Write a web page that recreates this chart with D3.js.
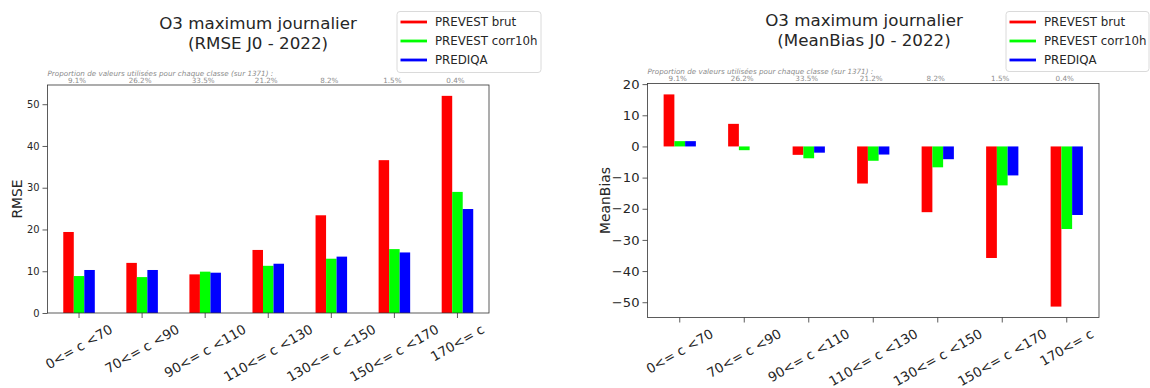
<!DOCTYPE html>
<html>
<head>
<meta charset="utf-8">
<script src="https://cdn.jsdelivr.net/npm/d3@7/dist/d3.min.js"></script>
<style>
  html, body { margin: 0; padding: 0; background: #fff; }
  svg { display: block; font-family: "DejaVu Sans", sans-serif; }
</style>
</head>
<body>
<svg id="chart" width="1150" height="388"></svg>
<script>
// Concentration classes (µg/m³) and share of observations in each class
const categories = ["0<= c <70", "70<= c <90", "90<= c <110", "110<= c <130", "130<= c <150", "150<= c <170", "170<= c"];
const proportions = ["9.1%", "26.2%", "33.5%", "21.2%", "8.2%", "1.5%", "0.4%"];
const seriesNames = ["PREVEST brut", "PREVEST corr10h", "PREDIQA"];
const seriesColors = ["#ff0000", "#00ff00", "#0000ff"];

// RMSE per class
const rmseBrut    = [19.4, 12.0, 9.25, 15.1, 23.4, 36.6, 52.0];
const rmseCorr    = [8.85, 8.6, 9.9, 11.3, 13.0, 15.3, 29.0];
const rmsePrediqa = [10.3, 10.3, 9.65, 11.8, 13.5, 14.5, 24.9];

// Mean bias per class
const biasBrut    = [16.7, 7.25, -2.7, -11.9, -21.1, -35.8, -51.4];
const biasCorr    = [1.7, -1.2, -3.8, -4.6, -6.7, -12.5, -26.5];
const biasPrediqa = [1.7, 0.0, -2.0, -2.6, -4.1, -9.3, -22.0];

const rmseTicks = [0, 10, 20, 30, 40, 50];
const biasTicks = [-50, -40, -30, -20, -10, 0, 10, 20];

const svg = d3.select("#chart");
const textColor = "#262626";

function drawPanel(cfg) {
  const { left, right, top, bottom, yDomain, ticks, series, yLabel, yLabelX, metric,
          yTickSize, titleX, titleY, legend } = cfg;
  const g = svg.append("g");

  const x = d3.scaleBand().domain(categories).range([left, right])
    .paddingInner(0.5).paddingOuter(0.25);
  const xs = d3.scaleBand().domain(d3.range(series.length)).range([0, x.bandwidth()]);
  const y = d3.scaleLinear().domain(yDomain).range([bottom, top]);

  // bars
  series.forEach((vals, s) => {
    g.append("g").selectAll("rect").data(vals).join("rect")
      .attr("x", (d, i) => x(categories[i]) + xs(s))
      .attr("width", xs.bandwidth())
      .attr("y", d => y(Math.max(0, d)))
      .attr("height", d => Math.abs(y(d) - y(0)))
      .attr("fill", seriesColors[s]);
  });

  // y axis
  const yAxis = g.append("g").attr("transform", `translate(${left},0)`)
    .call(d3.axisLeft(y).tickValues(ticks).tickSize(5).tickPadding(3)
      .tickFormat(d => d < 0 ? "\u2212" + Math.abs(d) : d));
  yAxis.select(".domain").remove();
  yAxis.selectAll("line").attr("stroke", "#333").attr("stroke-width", 0.8);
  yAxis.selectAll("text").attr("fill", textColor).attr("font-size", yTickSize)
    .attr("font-family", "DejaVu Sans");

  // x axis ticks
  const xAxis = g.append("g").attr("transform", `translate(0,${bottom})`)
    .call(d3.axisBottom(x).tickSize(5).tickFormat(""));
  xAxis.select(".domain").remove();
  xAxis.selectAll("line").attr("stroke", "#333").attr("stroke-width", 0.8);

  // rotated x tick labels, bbox centred under each tick
  const fs = 13.3;
  const labelTop = bottom + 8.5;
  categories.forEach(c => {
    const t = g.append("text")
      .attr("font-size", fs).attr("fill", textColor)
      .attr("text-anchor", "middle").attr("dominant-baseline", "central")
      .text(c);
    const w = t.node().getComputedTextLength();
    const h = fs * 1.17;
    const a = Math.PI / 6;
    const bh = w * Math.sin(a) + h * Math.cos(a);
    const cx = x(c) + x.bandwidth() / 2;
    t.attr("transform", `translate(${cx},${labelTop + bh / 2}) rotate(-30)`);
  });

  // frame
  g.append("rect").attr("x", left).attr("y", top)
    .attr("width", right - left).attr("height", bottom - top)
    .attr("fill", "none").attr("stroke", "#333").attr("stroke-width", 0.8);

  // class shares above the frame
  g.append("g").selectAll("text").data(proportions).join("text")
    .attr("x", (d, i) => x(categories[i]) + x.bandwidth() / 2 - 2)
    .attr("y", top - 2.5)
    .attr("text-anchor", "middle").attr("font-size", 7.2).attr("fill", "#8c8c8c")
    .text(d => d);
  g.append("text").attr("x", left).attr("y", top - 9.5)
    .attr("font-size", 7.2).attr("font-style", "italic").attr("fill", "#8c8c8c")
    .text("Proportion de valeurs utilisées pour chaque classe (sur 1371) :");

  // y label
  g.append("text")
    .attr("transform", `translate(${yLabelX},${(top + bottom) / 2}) rotate(-90)`)
    .attr("text-anchor", "middle").attr("font-size", 13.9).attr("fill", textColor)
    .text(yLabel);

  // title
  const title = g.append("text").attr("text-anchor", "middle")
    .attr("font-size", 16.7).attr("fill", textColor);
  title.append("tspan").attr("x", titleX).attr("y", titleY).text("O3 maximum journalier");
  title.append("tspan").attr("x", titleX).attr("y", titleY + 19.5).text(`(${metric} J0 - 2022)`);

  // legend
  const lg = g.append("g");
  lg.append("rect").attr("x", legend.x).attr("y", legend.y)
    .attr("width", legend.w).attr("height", legend.h).attr("rx", 3)
    .attr("fill", "#fff").attr("fill-opacity", 0.8)
    .attr("stroke", "#d0d0d0").attr("stroke-width", 0.8);
  seriesNames.forEach((n, i) => {
    const ly = legend.y + 10.5 + i * 19;
    lg.append("line").attr("x1", legend.x + 3.5).attr("x2", legend.x + 30)
      .attr("y1", ly).attr("y2", ly).attr("stroke", seriesColors[i]).attr("stroke-width", 2.8);
    lg.append("text").attr("x", legend.x + 38).attr("y", ly)
      .attr("dominant-baseline", "central").attr("font-size", 11.8).attr("fill", textColor)
      .text(n);
  });
}

drawPanel({
  left: 47.5, right: 489, top: 85, bottom: 313,
  yDomain: [0, 54.6], ticks: rmseTicks, yTickSize: 9.9,
  series: [rmseBrut, rmseCorr, rmsePrediqa],
  yLabel: "RMSE", yLabelX: 21.5, metric: "RMSE",
  titleX: 258, titleY: 29,
  legend: { x: 397, y: 11.5, w: 144, h: 61 }
});

drawPanel({
  left: 647.5, right: 1099, top: 83.5, bottom: 317.5,
  yDomain: [-54.9, 20.2], ticks: biasTicks, yTickSize: 13.1,
  series: [biasBrut, biasCorr, biasPrediqa],
  yLabel: "MeanBias", yLabelX: 609.5, metric: "MeanBias",
  titleX: 864, titleY: 26,
  legend: { x: 1006, y: 11.5, w: 143, h: 60 }
});
</script>
</body>
</html>
